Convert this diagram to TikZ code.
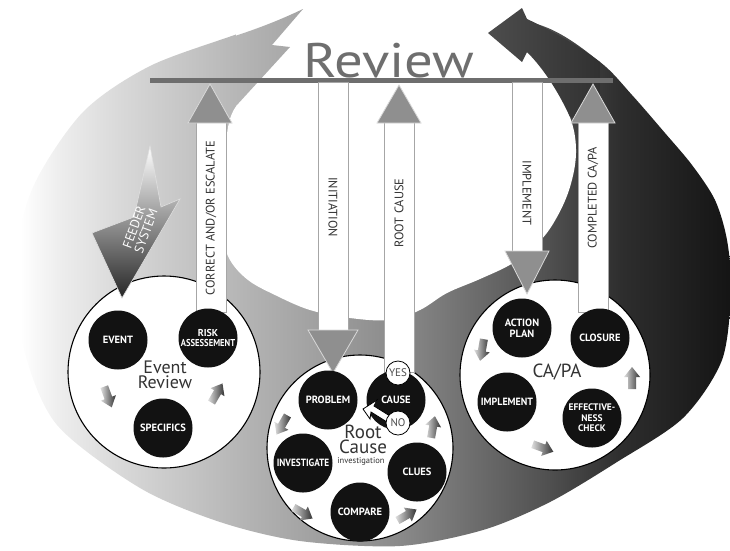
\documentclass[tikz,border=0pt]{standalone}
\usepackage{fontspec}
\setmainfont{PT Sans}
\usetikzlibrary{calc}
\definecolor{rA}{gray}{0.93}
\definecolor{rB}{gray}{0.85}
\definecolor{rC}{gray}{0.70}
\definecolor{rD}{gray}{0.54}
\definecolor{rE}{gray}{0.31}
\definecolor{rF}{gray}{0.18}
\definecolor{rG}{gray}{0.08}
\definecolor{revgray}{gray}{0.43}
\definecolor{headgray}{gray}{0.56}
\definecolor{nearblack}{gray}{0.07}
\definecolor{labgray}{gray}{0.2}
\definecolor{textdark}{gray}{0.2}
\pgfdeclarehorizontalshading{ringsh}{100bp}{color(0bp)=(white); color(26.4bp)=(white); color(29.1bp)=(rA); color(33.2bp)=(rB); color(42.1bp)=(rC); color(52.4bp)=(rD); color(62.7bp)=(rE); color(67.5bp)=(rF); color(75bp)=(rG); color(100bp)=(rG)}
\tikzset{
 shaftbox/.style={fill=white, draw=gray!70, line width=0.8pt},
 headtri/.style={fill=headgray, draw=white!70!gray, line width=0.8pt},
 bigcirc/.style={circle, fill=white, draw=black, line width=1.1pt, inner sep=0pt},
 dotc/.style={circle, fill=nearblack, inner sep=0pt, minimum size=59pt, text=white, font=\fontsize{10.5}{11}\selectfont\bfseries, align=center},
 arrlab/.style={text=labgray, font=\fontsize{12.4}{13}\selectfont, inner sep=0pt},
 yn/.style={circle, fill=white, draw=black, line width=0.8pt, minimum size=24pt, inner sep=0pt, text=gray!60!black, font=\fontsize{11}{10}\selectfont},
 centlab/.style={text=textdark, align=center, inner sep=0pt}
}
\newcommand\minarrow[3]{%
 \begin{scope}[shift={(#1,#2)}, rotate=#3]
   \shade[left color=gray!25, right color=black!80] (-11,-4) -- (1,-4) -- (1,-8) -- (11,0) -- (1,8) -- (1,4) -- (-11,4) -- cycle;
 \end{scope}}
\begin{document}
\begin{tikzpicture}[x=1pt,y=-1pt]
\useasboundingbox (0,0) rectangle (730,550);
% ring
\begin{scope}
\clip plot[smooth cycle, tension=0.5] coordinates {(305,8) (240,33) (150,66) (83,112) (33,187) (14,267) (24,350) (57,425) (140,488) (220,522) (300,541) (400,546) (483,530) (550,502) (617,462) (683,418) (722,360) (731,290) (727,240) (715,200) (692,165) (665,133) (632,95) (600,62) (540,25) (420,3)};
\shade[shading=ringsh] (0,0) rectangle (730,550);
\end{scope}
% inner white
\fill[white] plot[smooth cycle, tension=0.6] coordinates {(236,106) (226,140) (222,190) (224,238) (230,260) (248,280) (275,295) (310,310) (350,318) (390,320) (420,310) (447,293) (480,279) (513,263) (540,241) (557,217) (570,187) (576,153) (571,120) (553,84) (527,52) (480,30) (400,25) (320,35) (270,70)};
% gap
\fill[white] (236,-10) -- (236,110) -- (400,200) -- (540,120) -- (527,52) -- (527,-10) -- cycle;
% lightning head
\begin{scope}
\clip (303,9) -- (272,45) -- (290,47) -- (236,106) -- (222,125) -- (222,40) .. controls (255,30) and (280,20) .. (303,9) -- cycle;
\shade[shading=ringsh] (0,0) rectangle (730,550);
\end{scope}
% dark arrow head
\begin{scope}
\clip (488,33) -- (522,8) -- (527,19) .. controls (555,32) and (580,47) .. (600,62) -- (600,125) -- (570,117) .. controls (560,95) and (545,70) .. (527,52) -- (522,62) -- cycle;
\shade[left color=black!70, right color=black!82] (488,8) rectangle (612,125);
\end{scope}
% review
\draw[line width=5pt, revgray] (150,80) -- (613,80);
\node[anchor=base, text=revgray, inner sep=0pt, font=\fontsize{48.5}{50}\selectfont] (title) at (389,77) {\scalebox{1.17}[1]{Review}};
% big circles
\node[bigcirc, minimum size=192pt] (evc) at (164,372) {};
\node[bigcirc, minimum size=186pt] (rcc) at (360,448) {};
\node[bigcirc, minimum size=190pt] (cac) at (555,375) {};
% arrows
\filldraw[shaftbox] (196,122) rectangle (226,312);
\filldraw[headtri] (188,123) -- (232,123) -- (210,84) -- cycle;
\filldraw[shaftbox] (318,82) rectangle (348,331);
\filldraw[headtri] (308,330) -- (358,330) -- (333,373) -- cycle;
\filldraw[shaftbox] (384,122) rectangle (414,372);
\filldraw[headtri] (377,123) -- (421,123) -- (399,85) -- cycle;
\filldraw[shaftbox] (512,82) rectangle (542,252);
\filldraw[headtri] (505,251) -- (549,251) -- (527,294) -- cycle;
\filldraw[shaftbox] (578,122) rectangle (608,312);
\filldraw[headtri] (571,123) -- (615,123) -- (593,84) -- cycle;
\node[arrlab, rotate=90] (l1) at (211,218) {CORRECT AND/OR ESCALATE};
\node[arrlab, rotate=-90] (l2) at (333,207) {INITIATION};
\node[arrlab, rotate=90] (l3) at (399,213) {ROOT CAUSE};
\node[arrlab, rotate=-90] (l4) at (527,193) {IMPLEMENT};
\node[arrlab, rotate=90] (l5) at (593,198) {COMPLETED CA/PA};
% black circles
\node[dotc] (event) at (118,340) {EVENT};
\node[dotc, font=\fontsize{10}{10.5}\selectfont\bfseries] (risk) at (208,338) {RISK\\\scalebox{0.86}[1]{ASSESSEMENT}};
\node[dotc] (spec) at (163,428) {SPECIFICS};
\node[dotc] (prob) at (328,400) {PROBLEM};
\node[dotc] (cause) at (396,400) {CAUSE};
\node[dotc] (inv) at (303,463) {\scalebox{0.88}[1]{INVESTIGATE}};
\node[dotc] (clues) at (417,472) {CLUES};
\node[dotc] (comp) at (360,512) {COMPARE};
\node[dotc] (act) at (522,328) {ACTION\\PLAN};
\node[dotc] (clos) at (600,338) {CLOSURE};
\node[dotc] (impl) at (507,402) {\scalebox{0.95}[1]{IMPLEMENT}};
\node[dotc, font=\fontsize{9.5}{10.5}\selectfont\bfseries] (eff) at (592,418) {EFFECTIVE-\\NESS\\CHECK};
% center labels
\node[centlab, font=\fontsize{18}{15}\selectfont] (evt) at (165,375) {Event\\Review};
\node[centlab, font=\fontsize{19}{15}\selectfont] (rct) at (363,439) {Root\\Cause};
\node[centlab, font=\fontsize{8.5}{9}\selectfont] (invt) at (361,461) {investigation};
\node[centlab, font=\fontsize{19}{19}\selectfont] (cat) at (557,372) {CA/PA};
% yes/no
\node[yn] (yes) at (398,373) {YES};
\filldraw[fill=white, draw=black, line width=0.8pt] (363,409) -- (377,400) -- (374,406) -- (390,416) -- (387,422) -- (371,412) -- (370,419) -- cycle;
\node[yn] (no) at (398,423) {NO};
% small arrows
\minarrow{108}{397}{-70}
\minarrow{217}{393}{60}
\minarrow{282}{425}{-120}
\minarrow{303}{513}{-30}
\minarrow{407}{515}{30}
\minarrow{433}{427}{80}
\minarrow{482}{350}{-100}
\minarrow{543}{448}{-20}
\minarrow{632}{378}{90}
% feeder
\shadedraw[top color=white, middle color=black!40, bottom color=black!85, draw=white!75!gray, line width=0.6pt] (150,146) -- (161,207) -- (180,199) -- (122,298) -- (92,233) -- (134,217) -- cycle;
\node[text=white, rotate=70, align=center, inner sep=0pt, font=\fontsize{13}{12.5}\selectfont] (feed) at (140,229) {FEEDER\\SYSTEM};
\end{tikzpicture}
\end{document}
